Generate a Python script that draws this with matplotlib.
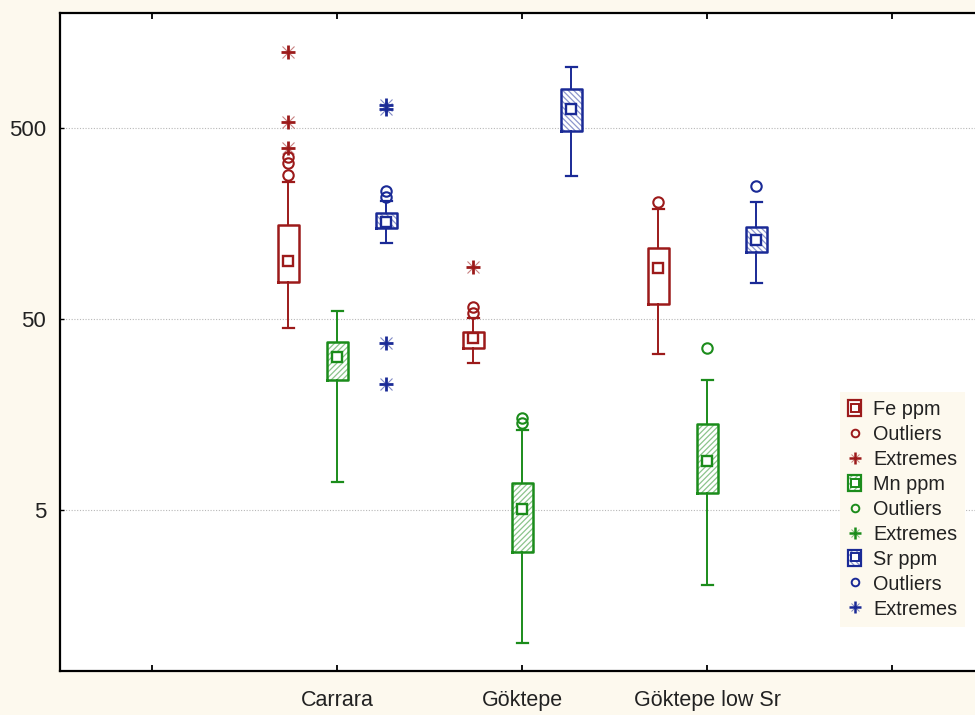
import matplotlib

matplotlib.use("Agg")
import matplotlib.pyplot as plt
from matplotlib.patches import Rectangle, Patch
from matplotlib.lines import Line2D
from matplotlib.legend_handler import HandlerTuple
from matplotlib.ticker import NullLocator

plt.rcParams["font.family"] = ["Liberation Sans", "DejaVu Sans"]
plt.rcParams["hatch.linewidth"] = 0.9

GROUPS = ["Carrara", "Göktepe", "Göktepe low Sr"]
ELEMENTS = ["Fe ppm", "Mn ppm", "Sr ppm"]

# per group: (non-outlier min, 25%, median, 75%, non-outlier max)
FE_STATS = [(45, 78, 101, 156, 262), (29.6, 35.2, 39.6, 43.0, 50.5), (32.7, 60, 93, 118, 190)]
MN_STATS = [(7.0, 24.0, 31.8, 38.1, 55.2), (1.01, 3.02, 5.06, 6.95, 13.2), (2.02, 6.11, 9.06, 14.1, 24.0)]
SR_STATS = [(125, 150, 161, 179, 208), (282, 484, 631, 800, 1052), (77.6, 112, 130, 152, 205)]

FE_OUTLIERS = [[355, 328, 285], [58.1, 54.0], [206]]
MN_OUTLIERS = [[], [15.1, 14.2], [35.2]]
SR_OUTLIERS = [[234, 219], [], [249]]

FE_EXTREMES = [[1250, 540, 393], [94], []]
MN_EXTREMES = [[], [], []]
SR_EXTREMES = [[660, 630, 37.3, 22.8], [], []]

Y_TICKS = [5, 50, 500]

BG = "#fdf9ee"
COLORS = ["#9c1a1a", "#1b8c1b", "#1a2a96"]
HATCH_COLORS = [None, "#8cc48c", "#8c96cc"]
HATCHES = [None, "//////", "\\\\\\\\\\\\"]
OFFSETS = [-0.265, 0.0, 0.265]
BOX_W = 0.115
CAP_W = 0.06


def draw_extremes(ax, x, values, color):
    if not values:
        return
    xs = [x] * len(values)
    ax.plot(xs, values, ls="none", marker="x", ms=8, mew=0.8, color=color, alpha=0.55, zorder=5)
    ax.plot(xs, values, ls="none", marker="+", ms=10, mew=2.0, color=color, zorder=5)


def main():
    fig = plt.figure(figsize=(9.75, 7.15), dpi=100, facecolor=BG)
    ax = fig.add_axes([0.0615, 0.0615, 0.9487, 0.9203])
    ax.set_facecolor("white")

    series = [
        (FE_STATS, FE_OUTLIERS, FE_EXTREMES),
        (MN_STATS, MN_OUTLIERS, MN_EXTREMES),
        (SR_STATS, SR_OUTLIERS, SR_EXTREMES),
    ]

    for k, (stats, outliers, extremes) in enumerate(series):
        color = COLORS[k]
        pos = [i + 1 + OFFSETS[k] for i in range(len(GROUPS))]
        if HATCHES[k]:
            for p, s in zip(pos, stats):
                ax.add_patch(Rectangle((p - BOX_W / 2, s[1]), BOX_W, s[3] - s[1],
                                       facecolor="white", edgecolor=HATCH_COLORS[k],
                                       hatch=HATCHES[k], linewidth=0, zorder=2))
        bstats = [dict(whislo=s[0], q1=s[1], med=s[2], q3=s[3], whishi=s[4], fliers=o)
                  for s, o in zip(stats, outliers)]
        ax.bxp(bstats, positions=pos, widths=BOX_W, capwidths=CAP_W, manage_ticks=False,
               boxprops=dict(color=color, linewidth=1.8),
               whiskerprops=dict(color=color, linewidth=1.4),
               capprops=dict(color=color, linewidth=1.6),
               medianprops=dict(linestyle="none"),
               flierprops=dict(marker="o", markerfacecolor="none", markeredgecolor=color,
                               markersize=7.5, markeredgewidth=1.5),
               zorder=3)
        ax.plot(pos, [s[2] for s in stats], ls="none", marker="s", mfc="white", mec=color,
                ms=7.5, mew=1.7, zorder=4)
        for p, e in zip(pos, extremes):
            draw_extremes(ax, p, e, color)

    ax.set_yscale("log")
    ax.set_ylim(0.716, 2010)
    ax.set_xlim(-0.5, 4.5)
    ax.set_yticks(Y_TICKS)
    ax.set_yticklabels([str(t) for t in Y_TICKS])
    ax.yaxis.set_minor_locator(NullLocator())
    ax.set_xticks(range(len(GROUPS) + 2))
    ax.set_xticklabels([""] + GROUPS + [""])
    ax.grid(True, axis="y", color="#b8b8b8", linestyle=(0, (1, 1.5)), linewidth=0.8)
    ax.set_axisbelow(True)
    ax.tick_params(axis="x", direction="in", length=4, width=1.3, top=True,
                   labelsize=15.5, pad=14, labelcolor="#222222")
    ax.tick_params(axis="y", direction="in", length=3, width=1.0, labelsize=16, pad=10,
                   labelcolor="#222222")
    for side in ["left", "bottom", "top", "right"]:
        ax.spines[side].set_linewidth(1.6)

    handles = []
    for k in range(3):
        color = COLORS[k]
        parts = []
        if HATCHES[k]:
            parts.append(Patch(facecolor="white", edgecolor=HATCH_COLORS[k],
                               hatch=HATCHES[k], linewidth=0))
        parts.append(Patch(facecolor="none" if HATCHES[k] else "white",
                           edgecolor=color, linewidth=1.6))
        parts.append(Line2D([], [], ls="none", marker="s", mfc="white", mec=color, ms=6, mew=1.4))
        handles.append(tuple(parts))
        handles.append(Line2D([], [], ls="none", marker="o", mfc="none", mec=color, ms=5.5, mew=1.4))
        handles.append((Line2D([], [], ls="none", marker="x", ms=6, mew=0.7, color=color, alpha=0.55),
                        Line2D([], [], ls="none", marker="+", ms=8, mew=1.8, color=color)))
    labels = []
    for name in ELEMENTS:
        labels += [name, "Outliers", "Extremes"]

    leg = fig.legend(handles, labels, loc="upper left", bbox_to_anchor=(0.862, 0.4515),
                     bbox_transform=fig.transFigure, fontsize=14.3, frameon=True,
                     facecolor=BG, edgecolor="none", framealpha=1, fancybox=False,
                     handlelength=0.65, handleheight=0.85, handletextpad=0.6,
                     labelspacing=0.30, borderpad=0.4, borderaxespad=0,
                     handler_map={tuple: HandlerTuple(ndivide=1)})
    for text in leg.get_texts():
        text.set_color("#222222")
    leg.set_zorder(10)

    fig.savefig("out.png", dpi=100, facecolor=BG)
    plt.close(fig)


if __name__ == "__main__":
    main()
